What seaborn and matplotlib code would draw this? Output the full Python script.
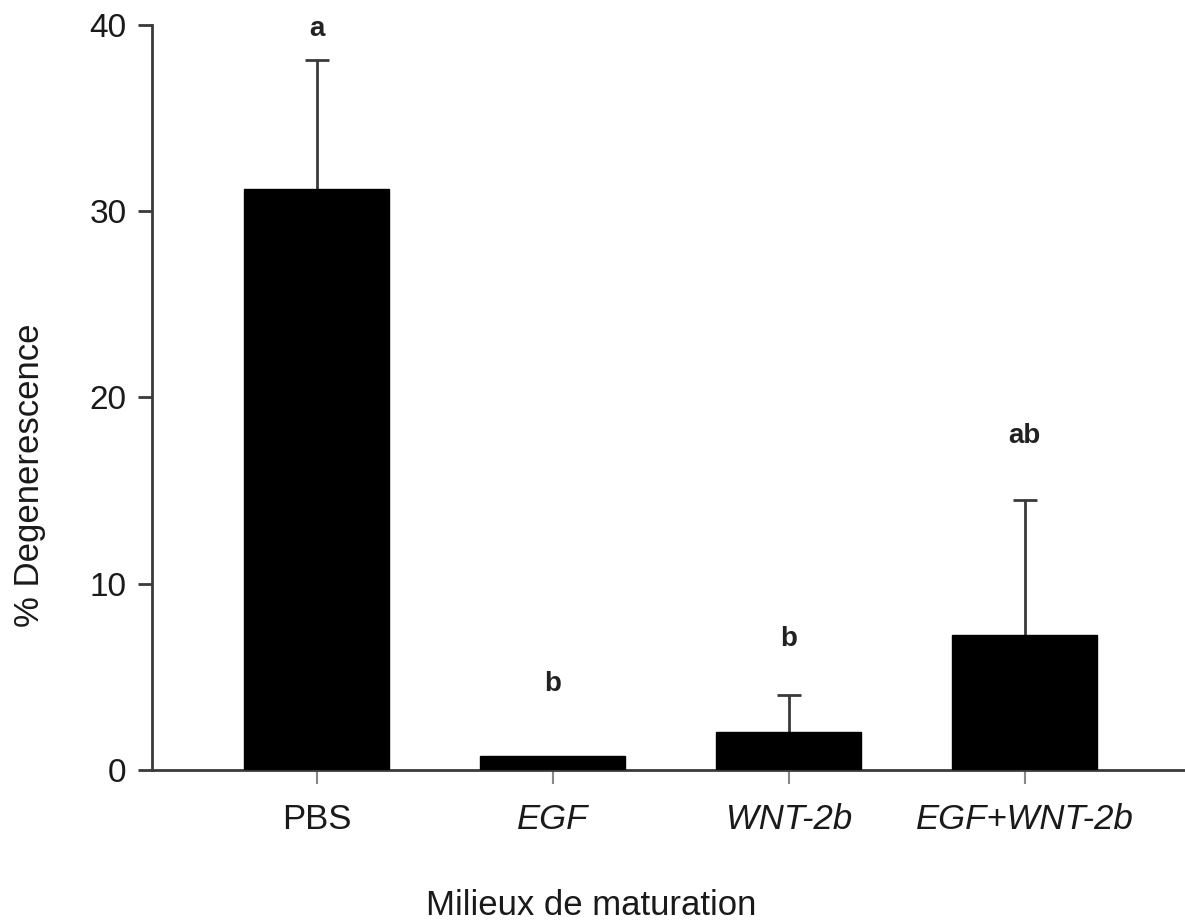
import matplotlib
matplotlib.use("Agg")
import matplotlib.pyplot as plt
import seaborn as sns
import pandas as pd

categories = ["PBS", "EGF", "WNT-2b", "EGF+WNT-2b"]
means = [31.2, 0.75, 2.05, 7.25]
errors = [6.9, 0.0, 1.95, 7.25]
letters = ["a", "b", "b", "ab"]
letter_y = [39.8, 4.6, 7.0, 17.9]
italic = [False, True, True, True]

sns.set_theme(style="white")
plt.rcParams['font.family'] = ['Liberation Sans', 'DejaVu Sans']

fig = plt.figure(figsize=(11.85, 9.22), dpi=100)
ax = fig.add_axes([0.128, 0.165, 0.872, 0.808])

df = pd.DataFrame({"cat": categories, "val": means})
sns.barplot(data=df, x="cat", y="val", color="black", saturation=1,
            width=0.614, ax=ax, errorbar=None, edgecolor="black", zorder=3)

xpos = list(range(len(categories)))
upper = [m + e for m, e in zip(means, errors)]
has_err = [e > 0 for e in errors]
ax.errorbar([x for x, h in zip(xpos, has_err) if h],
            [m for m, h in zip(means, has_err) if h],
            yerr=[[0]*sum(has_err), [e for e, h in zip(errors, has_err) if h]],
            fmt="none", ecolor="#3a3a3a", elinewidth=2, capsize=0, zorder=1)
ax.scatter([x for x, h in zip(xpos, has_err) if h],
           [u for u, h in zip(upper, has_err) if h],
           marker="_", s=280, linewidths=2, color="#3a3a3a", zorder=2)

for i, (l, y) in enumerate(zip(letters, letter_y)):
    ax.text(i, y, l, ha="center", va="center", fontsize=20, fontweight="bold", color="#222222")

ax.set_ylim(0, 40)
ax.set_xlim(-0.70, 3.68)
ax.set_yticks([0, 10, 20, 30, 40])
ax.set_xticks(xpos)
ax.set_xticklabels(categories)
for lab, it in zip(ax.get_xticklabels(), italic):
    lab.set_fontstyle("italic" if it else "normal")

for s in ["top", "right"]:
    ax.spines[s].set_visible(False)
for s in ["left", "bottom"]:
    ax.spines[s].set_linewidth(2)
    ax.spines[s].set_color("#3a3a3a")

ax.tick_params(axis="y", which="both", direction="out", length=10, width=2,
               color="#3a3a3a", labelsize=24, labelcolor="#1a1a1a", pad=8, left=True)
ax.tick_params(axis="x", which="both", direction="out", length=10, width=1.5,
               color="#888888", labelsize=25, labelcolor="#1a1a1a", pad=14, bottom=True)

ax.set_xlabel("Milieux de maturation", fontsize=25, color="#1a1a1a", labelpad=38)
ax.set_ylabel("% Degenerescence", fontsize=25, color="#1a1a1a", labelpad=31)
ax.xaxis.label.set_x(0.425)
ax.yaxis.label.set_y(0.395)

fig.savefig("out.png", dpi=100, facecolor="white")
